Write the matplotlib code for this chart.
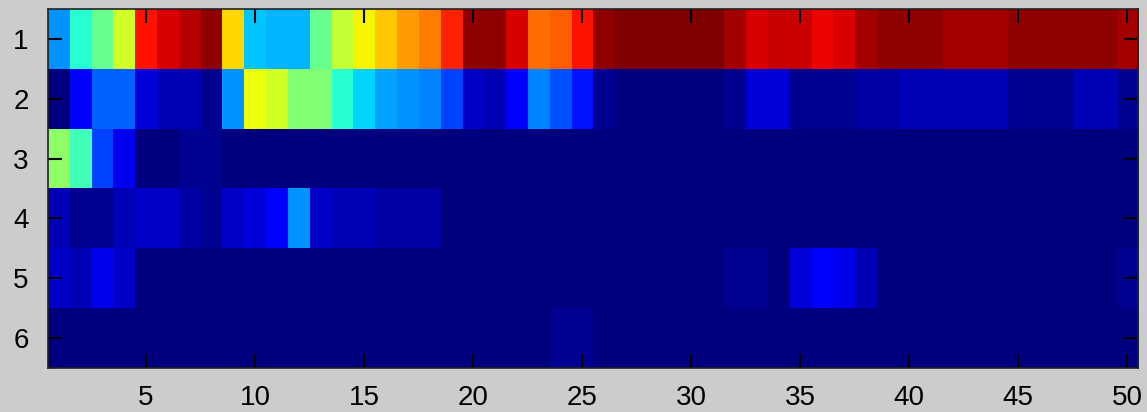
import numpy as np
import matplotlib.pyplot as plt

# intensity per bin, one list per row (rows 1..6, columns 1..50)
row1 = [0.27, 0.40, 0.47, 0.60, 0.875, 0.91, 0.94, 0.97, 0.68, 0.32,
        0.31, 0.31, 0.48, 0.59, 0.645, 0.70, 0.74, 0.78, 0.86, 0.97,
        0.97, 0.91, 0.79, 0.81, 0.89, 0.97, 1.0, 1.0, 1.0, 1.0,
        1.0, 0.96, 0.92, 0.935, 0.93, 0.90, 0.92, 0.96, 0.975, 0.975,
        0.975, 0.96, 0.96, 0.96, 0.975, 0.975, 0.975, 0.975, 0.975, 0.96]
row2 = [0.01, 0.11, 0.22, 0.22, 0.08, 0.06, 0.05, 0.02, 0.27, 0.625,
        0.60, 0.50, 0.50, 0.40, 0.33, 0.29, 0.27, 0.25, 0.19, 0.07,
        0.05, 0.11, 0.25, 0.21, 0.145, 0.03, 0.01, 0.01, 0.01, 0.01,
        0.01, 0.02, 0.085, 0.085, 0.03, 0.02, 0.02, 0.04, 0.04, 0.05,
        0.05, 0.05, 0.05, 0.05, 0.03, 0.03, 0.03, 0.05, 0.05, 0.03]
row3 = [0.52, 0.43, 0.20, 0.10, 0.01, 0.01, 0.02, 0.02] + [0.005] * 42
row4 = [0.05, 0.02, 0.03, 0.05, 0.07, 0.07, 0.04, 0.02, 0.07, 0.085,
        0.12, 0.27, 0.07, 0.06, 0.06, 0.045, 0.045, 0.045] + [0.005] * 32
row5 = ([0.07, 0.06, 0.095, 0.07] + [0.005] * 27 + [0.02, 0.02, 0.005,
        0.085, 0.12, 0.10, 0.06] + [0.005] * 11 + [0.025])
row6 = [0.005] * 23 + [0.03, 0.03] + [0.005] * 25

xticks = [5, 10, 15, 20, 25, 30, 35, 40, 45, 50]
yticks = [1, 2, 3, 4, 5, 6]

M = np.array([row1, row2, row3, row4, row5, row6])

plt.rcParams['font.family'] = ['Liberation Sans', 'DejaVu Sans']
fig = plt.figure(figsize=(11.47, 4.12), dpi=100, facecolor='#cccccc')
ax = fig.add_axes([0.0418, 0.1068, 0.9504, 0.8712])
ax.imshow(M, cmap=plt.get_cmap('jet', 64), vmin=0, vmax=1, aspect='auto',
          interpolation='nearest', extent=[0.5, 50.5, 6.5, 0.5])
ax.set_xticks(xticks)
ax.set_yticks(yticks)
ax.tick_params(direction='in', length=10, width=1.5, top=True, right=True,
               labelsize=20, pad=12, colors='black')
ax.tick_params(axis='y', pad=14)
for s in ax.spines.values():
    s.set_linewidth(1.2)
    s.set_color('#222222')
fig.savefig('out.png', dpi=100, facecolor=fig.get_facecolor())
